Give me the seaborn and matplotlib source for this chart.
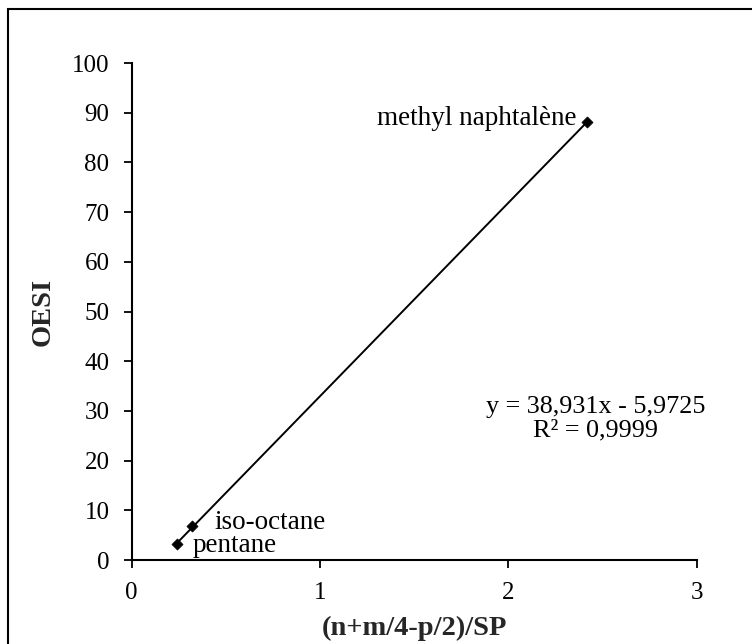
import numpy as np
import pandas as pd
import matplotlib
matplotlib.use("Agg")
import matplotlib.pyplot as plt
from matplotlib.patches import Rectangle
import seaborn as sns

# Fuel data: composition index vs OESI
compounds = ["pentane", "iso-octane", "methyl naphtalène"]
x_index = [0.24, 0.32, 2.42]
oesi = [3.3, 6.8, 88.2]

# Linear fit reported for the series
slope = 38.931
intercept = -5.9725
r_squared = 0.9999

x_ticks = [0, 1, 2, 3]
y_ticks = [0, 10, 20, 30, 40, 50, 60, 70, 80, 90, 100]

sns.set_style("ticks")
plt.rcParams["font.family"] = ["Liberation Serif", "DejaVu Serif"]

FS_TICK = 18
FS_TEXT = 19.5
FS_LABEL = 20.5

df = pd.DataFrame({"x": x_index, "OESI": oesi, "name": compounds})
fit_x = np.array([min(x_index), max(x_index)])
fit = pd.DataFrame({"x": fit_x, "y": slope * fit_x + intercept})

fig = plt.figure(figsize=(7.52, 6.44), dpi=100)
ax = fig.add_axes([0.175, 0.1304, 0.7515, 0.7716])

sns.lineplot(data=fit, x="x", y="y", ax=ax, color="black", linewidth=1.4)
sns.scatterplot(data=df, x="x", y="OESI", ax=ax, marker="D", s=32,
                color="black", edgecolor="black", linewidth=0.5, zorder=3)

ax.set_xlim(0, 3)
ax.set_ylim(0, 100)
ax.set_xticks(x_ticks)
ax.set_yticks(y_ticks)
ax.tick_params(axis="both", direction="out", length=6, width=1.3,
               labelsize=FS_TICK, colors="black")
ax.tick_params(axis="x", pad=10)
ax.tick_params(axis="y", pad=10)
for side in ["top", "right"]:
    ax.spines[side].set_visible(False)
for side in ["left", "bottom"]:
    ax.spines[side].set_linewidth(1.5)
    ax.spines[side].set_color("black")

ax.set_xlabel("(n+m/4-p/2)/SP", fontsize=FS_LABEL, fontweight="bold", labelpad=8)
ax.set_ylabel("OESI", fontsize=FS_LABEL, fontweight="bold", labelpad=12)

# Point labels
label_style = dict(fontsize=FS_TEXT, color="black")
ax.annotate(compounds[0], (x_index[0], oesi[0]), xytext=(11, -1),
            textcoords="offset points", ha="left", va="center", **label_style)
ax.annotate(compounds[1], (x_index[1], oesi[1]), xytext=(16, 3),
            textcoords="offset points", ha="left", va="center", **label_style)
ax.annotate(compounds[2], (x_index[2], oesi[2]), xytext=(-8, 2),
            textcoords="offset points", ha="right", va="center", **label_style)

# Regression equation
eq = f"y = {slope:.3f}x - {abs(intercept):.4f}".replace(".", ",")
r2 = f"R² = {r_squared:.4f}".replace(".", ",")
ax.text(2.465, 28.5, eq + "\n" + r2, ha="center", va="center",
        multialignment="center", fontsize=18.8, linespacing=1.1, color="black")

# Chart area border
fig.patches.append(Rectangle((8 / 752, -0.1), 1.2, 1 - 9 / 644 + 0.1,
                             transform=fig.transFigure, fill=False,
                             edgecolor="black", linewidth=1.5))

fig.savefig("out.png", dpi=100, facecolor="white")
